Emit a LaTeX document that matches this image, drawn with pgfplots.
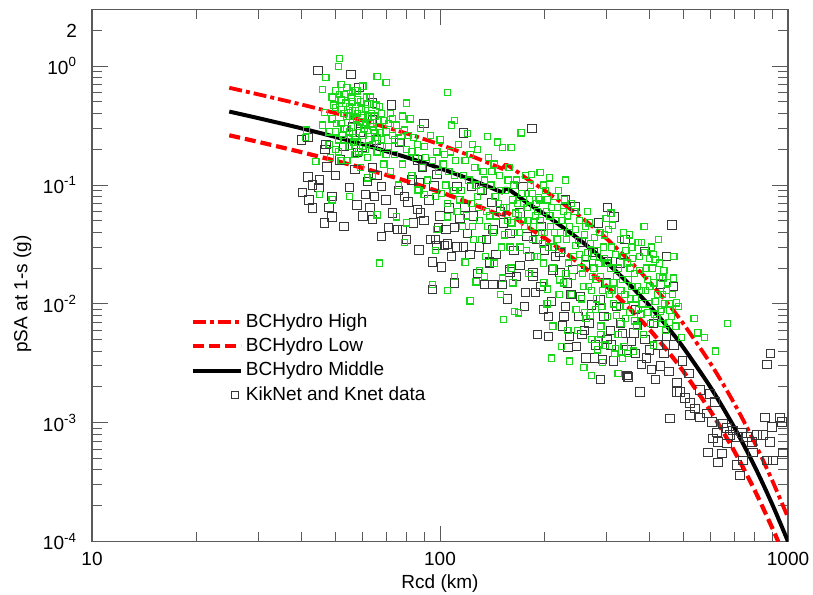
\documentclass[border=0pt]{standalone}
\usepackage{fontspec}
\setmainfont{Liberation Sans}
\usepackage{pgfplots}
\pgfplotsset{compat=1.18}
\definecolor{ptgreen}{RGB}{25,215,25}
\definecolor{ptgray}{RGB}{55,55,55}
\definecolor{axgray}{RGB}{90,90,90}
\begin{document}
\begin{tikzpicture}
\path[use as bounding box] (-46pt,-26.5pt) rectangle (360.5pt,270.75pt);
\begin{axis}[
  scale only axis, width=348pt, height=266pt,
  xmode=log, ymode=log,
  xmin=10, xmax=1000, ymin=1e-4, ymax=3,
  xtick={10,100,1000}, xticklabels={10,100,1000},
  ytick={1e-4,1e-3,1e-2,1e-1,1},
  yticklabels={10\textsuperscript{-4},10\textsuperscript{-3},10\textsuperscript{-2},10\textsuperscript{-1},10\textsuperscript{0}},
  extra y ticks={2}, extra y tick labels={2},
  extra y tick style={major tick length=5pt},
  major tick length=8pt, minor tick length=5pt,
  tick align=inside,
  axis line style={axgray, line width=0.6pt},
  every tick/.style={axgray, line width=0.5pt},
  tick label style={font=\fontsize{9.5}{11}\selectfont},
  yticklabel style={xshift=-4pt},
  xticklabel style={yshift=-2pt},
  xlabel={Rcd (km)}, ylabel={pSA at 1-s (g)},
  label style={font=\fontsize{9.5}{11}\selectfont},
  xlabel style={at={(axis description cs:0.5,-0.079)}, anchor=center},
  ylabel style={at={(axis description cs:-0.1,0.465)}, anchor=center},
  legend style={draw=none, fill=none, at={(axis description cs:0.141,0.435)}, anchor=north west,
    font=\fontsize{9.5}{11}\selectfont, row sep=0.55pt, inner sep=0pt, nodes={inner sep=1.6pt}},
  legend cell align=left,
  legend image code/.code={\draw[#1] (0pt,0pt) -- (24pt,0pt);},
]
% black data squares
\addplot[only marks, mark=square, mark size=2.1pt, mark options={draw=ptgray, line width=0.5pt}, forget plot] table[row sep=\\] {
x y\\
44.6 0.92\\ 55.5 0.85\\ 58.5 0.66\\ 64 0.49\\ 72.5 0.47\\ 90 0.33\\ 41.7 0.25\\ 47 0.22\\ 47.3 0.142\\ 46.7 0.198\\
59.7 0.206\\ 65.7 0.24\\ 76.8 0.227\\ 89 0.14\\ 98 0.122\\ 41.7 0.117\\ 40.3 0.087\\ 43 0.10\\ 44.9 0.095\\ 43 0.064\\
49 0.054\\ 46.6 0.048\\ 49 0.08\\ 57.8 0.068\\ 61 0.083\\ 64.8 0.08\\ 68 0.097\\ 62 0.107\\ 68 0.037\\ 71 0.044\\
75.5 0.042\\ 78 0.042\\ 81 0.072\\ 84 0.048\\ 94 0.0346\\ 98 0.031\\ 105 0.032\\ 110 0.044\\ 106 0.064\\ 112 0.097\\
87 0.105\\ 79 0.08\\ 51.6 0.163\\ 53 0.21\\ 58 0.187\\ 64 0.14\\ 86 0.163\\ 56 0.31\\ 64 0.355\\ 59 0.28\\
40 0.24\\ 64 0.051\\ 87 0.0285\\ 95 0.0225\\ 101 0.0204\\ 95 0.0132\\ 110 0.0150\\ 103 0.031\\ 112 0.030\\ 97 0.035\\
88 0.058\\ 99 0.044\\ 139 0.022\\ 134 0.0145\\ 142 0.0145\\ 151 0.0145\\ 159 0.0185\\ 166 0.017\\ 185 0.017\\ 188 0.0124\\
205 0.0078\\ 227 0.0078\\ 229 0.0095\\ 191 0.0055\\ 205 0.0053\\ 236 0.0053\\ 247 0.0044\\ 233 0.0043\\ 263 0.0035\\ 278 0.0035\\
293 0.0034\\ 315 0.0033\\ 345 0.0025\\ 302 0.0050\\ 345 0.0041\\ 232 0.0150\\ 253 0.0115\\ 272 0.0098\\ 289 0.0108\\ 309 0.0060\\
330 0.0069\\ 211 0.0193\\ 221 0.0183\\ 117 0.275\\ 184 0.30\\ 173 0.097\\ 229 0.075\\ 244 0.066\\ 303 0.065\\ 285 0.048\\
316 0.054\\ 141 0.071\\ 132 0.091\\ 123 0.097\\ 149 0.060\\ 170 0.058\\ 142 0.042\\ 159 0.039\\ 178 0.037\\ 200 0.0285\\
221 0.0270\\ 117 0.030\\ 130 0.030\\ 120 0.039\\ 139 0.0225\\ 159 0.0195\\ 185 0.0183\\ 241 0.0195\\ 262 0.0214\\ 302 0.0225\\
330 0.0220\\ 340 0.0346\\ 275 0.027\\ 464 0.046\\ 448 0.025\\ 468 0.0140\\ 388 0.0275\\ 430 0.0145\\ 361 0.0057\\ 388 0.0050\\
423 0.0045\\ 448 0.0053\\ 365 0.0038\\ 392 0.0035\\ 890 0.0038\\ 870 0.0031\\ 348 0.0024\\
376 0.00181\\ 458 0.00109\\ 480 0.00181\\ 506 0.00161\\ 523 0.00116\\ 540 0.00132\\ 559 0.00111\\ 585 0.00120\\ 605 0.00101\\ 617 0.00149\\
625 0.00083\\ 651 0.00099\\ 668 0.00090\\ 681 0.00079\\ 695 0.00086\\ 713 0.00076\\ 737 0.00082\\ 762 0.00076\\ 788 0.00069\\ 815 0.00079\\
848 0.00079\\ 888 0.00069\\ 859 0.00111\\ 899 0.00092\\ 948 0.00111\\ 962 0.00101\\ 968 0.00056\\ 906 0.00048\\ 871 0.00048\\ 793 0.00056\\
743 0.00048\\ 728 0.00036\\ 630 0.00046\\ 589 0.00056\\ 646 0.00055\\ 713 0.00044\\ 608 0.00074\\ 630 0.00069\\ 668 0.00067\\ 559 0.00188\\
597 0.00174\\ 523 0.00146\\ 489 0.00181\\ 480 0.00219\\ 347 0.00242\\ 400 0.0041\\ 430 0.0030\\ 455 0.0027\\ 416 0.0023\\ 497 0.0033\\
289 0.0023\\ 260 0.0060\\ 198 0.0090\\ 176 0.0125\\ 365 0.0090\\ 410 0.0068\\ 520 0.0026\\ 300 0.0150\\ 255 0.0330\\ 195 0.045\\
42 0.075\\ 45 0.11\\ 48 0.065\\ 50 0.12\\ 53 0.045\\ 55 0.095\\ 57 0.135\\ 60 0.055\\ 63 0.065\\ 66 0.12\\
70 0.075\\ 73 0.058\\ 76 0.09\\ 80 0.035\\ 83 0.11\\ 86 0.062\\ 90 0.05\\ 93 0.075\\ 96 0.098\\ 100 0.055\\
104 0.042\\ 108 0.025\\ 114 0.052\\ 118 0.065\\ 122 0.026\\
125 0.055\\ 128 0.018\\ 136 0.035\\ 145 0.026\\ 152 0.048\\ 156 0.011\\ 163 0.028\\ 170 0.021\\ 175 0.0095\\ 181 0.025\\
190 0.035\\ 195 0.014\\ 209 0.0105\\ 215 0.025\\ 225 0.0065\\ 238 0.012\\ 250 0.0078\\ 256 0.0055\\ 268 0.0068\\ 280 0.0045\\
296 0.0078\\ 310 0.0045\\ 322 0.0095\\ 335 0.0056\\ 355 0.0048\\ 370 0.0066\\ 380 0.0031\\ 405 0.0028\\ 440 0.0038\\ 470 0.0045\\
}; 
% green data squares
\addplot[only marks, mark=square, mark size=1.55pt, mark options={draw=ptgreen, line width=0.6pt}, forget plot] table[row sep=\\] {
x y\\
46 0.64\\ 47 0.80\\ 51.4 1.16\\ 51 0.99\\ 56 0.60\\ 66 0.82\\ 70 0.73\\ 80 0.49\\ 105 0.60\\ 110 0.35\\
41.3 0.29\\ 41 0.25\\ 44 0.157\\ 46.6 0.41\\ 46 0.32\\ 48 0.22\\ 49 0.36\\ 50 0.28\\ 50 0.45\\ 51 0.19\\
52 0.33\\ 52 0.52\\ 53 0.24\\ 53 0.40\\ 54 0.30\\ 54 0.16\\ 55 0.46\\ 55 0.21\\ 56 0.35\\ 56 0.27\\
57 0.18\\ 57 0.42\\ 58 0.31\\ 58 0.23\\ 59 0.50\\ 59 0.14\\ 60 0.37\\ 60 0.26\\ 61 0.20\\ 61 0.44\\
62 0.29\\ 62 0.17\\ 63 0.33\\ 63 0.55\\ 64 0.22\\ 64 0.12\\ 65 0.38\\ 65 0.27\\ 66 0.19\\ 67 0.31\\
67 0.46\\ 68 0.24\\ 69 0.15\\ 69 0.35\\ 70 0.28\\ 71 0.21\\ 72 0.40\\ 72 0.13\\ 73 0.26\\ 74 0.18\\
75 0.32\\ 76 0.10\\ 77 0.23\\ 78 0.15\\ 79 0.29\\ 80 0.20\\ 82 0.36\\ 83 0.12\\ 84 0.25\\ 85 0.17\\
87 0.09\\ 88 0.30\\ 89 0.14\\ 90 0.21\\ 92 0.11\\ 94 0.26\\ 95 0.16\\ 97 0.08\\ 98 0.19\\ 99 0.13\\
49 0.55\\ 50 0.62\\ 52 0.70\\ 53 0.58\\ 54 0.66\\ 55 0.38\\ 57 0.62\\ 58 0.52\\ 60 0.68\\ 62 0.48\\
48 0.28\\ 51 0.24\\ 53 0.30\\ 55 0.28\\ 57 0.25\\ 59 0.34\\ 61 0.32\\ 52 0.43\\ 56 0.50\\ 58 0.40\\
45 0.083\\ 49 0.075\\ 55 0.08\\ 62 0.115\\ 66 0.056\\ 75 0.054\\ 80 0.048\\ 79 0.033\\ 86 0.091\\ 90 0.083\\
98 0.042\\ 105 0.054\\ 67 0.022\\ 95 0.0145\\ 105 0.013\\ 110 0.017\\ 97 0.028\\
100 0.24\\ 102 0.15\\ 104 0.10\\ 105 0.07\\ 107 0.19\\ 108 0.32\\ 110 0.12\\ 112 0.06\\ 113 0.22\\ 115 0.09\\
116 0.045\\ 118 0.16\\ 120 0.27\\ 121 0.11\\ 123 0.07\\ 125 0.035\\ 126 0.14\\ 128 0.20\\ 130 0.05\\ 131 0.09\\
133 0.13\\ 135 0.025\\ 136 0.06\\ 138 0.17\\ 140 0.10\\ 142 0.04\\ 144 0.08\\ 146 0.23\\ 148 0.12\\ 150 0.03\\
152 0.065\\ 154 0.09\\ 156 0.05\\ 158 0.14\\ 160 0.02\\ 162 0.075\\ 164 0.04\\ 166 0.11\\ 168 0.055\\ 170 0.03\\
172 0.085\\ 175 0.045\\ 178 0.065\\ 180 0.018\\ 182 0.10\\ 185 0.035\\ 188 0.055\\ 190 0.025\\ 193 0.075\\ 196 0.04\\
199 0.015\\ 202 0.06\\ 205 0.03\\ 208 0.045\\ 211 0.02\\ 214 0.08\\ 217 0.035\\ 220 0.012\\
171 0.275\\ 151 0.206\\ 160 0.206\\ 124 0.22\\ 137 0.255\\ 194 0.127\\ 206 0.115\\ 229 0.11\\ 183 0.122\\ 192 0.078\\
313 0.046\\ 337 0.04\\ 310 0.058\\
371 0.033\\ 415 0.0235\\ 437 0.0165\\ 468 0.0165\\ 479 0.0102\\ 537 0.0075\\ 670 0.0068\\ 551 0.0057\\ 576 0.0052\\ 620 0.0040\\
494 0.0052\\ 430 0.0086\\ 455 0.0070\\
225 0.028\\ 230 0.018\\ 235 0.040\\ 238 0.012\\ 242 0.025\\ 246 0.009\\ 250 0.034\\ 254 0.020\\ 258 0.014\\ 262 0.045\\
266 0.027\\ 270 0.008\\ 274 0.017\\ 278 0.036\\ 282 0.011\\ 286 0.022\\ 290 0.0065\\ 295 0.030\\ 300 0.015\\ 305 0.042\\
310 0.020\\ 315 0.010\\ 320 0.026\\ 325 0.0055\\ 330 0.035\\ 335 0.016\\ 340 0.012\\ 345 0.022\\ 350 0.0085\\ 356 0.030\\
362 0.018\\ 368 0.0065\\ 374 0.025\\ 380 0.013\\ 386 0.045\\ 392 0.020\\ 398 0.010\\ 405 0.030\\ 412 0.015\\ 420 0.0075\\
428 0.022\\ 436 0.012\\ 445 0.006\\
232 0.055\\ 248 0.006\\ 265 0.060\\ 285 0.005\\ 298 0.0045\\ 318 0.0038\\ 338 0.0044\\ 360 0.0040\\ 300 0.052\\ 328 0.0095\\
342 0.028\\ 356 0.014\\ 372 0.009\\ 384 0.0055\\ 395 0.016\\ 410 0.0045\\ 425 0.035\\ 440 0.019\\ 455 0.010\\ 470 0.025\\
152 0.0074\\ 122 0.0106\\ 209 0.0035\\ 272 0.0025\\ 325 0.0026\\ 130 0.019\\ 164 0.0086\\ 168 0.0084\\ 236 0.0033\\ 259 0.0029\\
293 0.0032\\ 334 0.0035\\ 223 0.0044\\ 211 0.0065\\ 203 0.010\\ 233 0.0060\\ 272 0.0050\\ 284 0.0041\\ 320 0.0042\\ 346 0.0038\\
127 0.0153\\ 134 0.017\\ 151 0.0165\\ 162 0.015\\ 149 0.012\\ 143 0.022\\ 118 0.0225\\ 198 0.022\\ 204 0.0133\\ 221 0.0159\\
124 0.045\\ 128 0.08\\ 132 0.035\\ 139 0.055\\ 141 0.13\\ 147 0.07\\ 153 0.038\\ 157 0.11\\ 161 0.048\\ 167 0.07\\
173 0.05\\ 177 0.028\\ 181 0.075\\ 186 0.045\\ 191 0.06\\ 197 0.032\\ 201 0.09\\ 207 0.055\\ 213 0.04\\ 218 0.065\\
224 0.05\\ 228 0.075\\ 236 0.045\\ 244 0.06\\ 252 0.05\\ 260 0.038\\ 268 0.048\\ 276 0.025\\ 288 0.04\\ 296 0.024\\
255 0.011\\ 263 0.0075\\ 272 0.013\\ 281 0.016\\ 292 0.0095\\ 303 0.0078\\ 312 0.013\\ 322 0.017\\ 331 0.0068\\ 344 0.0095\\
352 0.020\\ 365 0.011\\ 378 0.0082\\ 390 0.013\\ 402 0.0068\\ 415 0.0105\\ 432 0.009\\ 448 0.013\\ 462 0.0078\\ 400 0.024\\
48.5 0.17\\ 49.5 0.47\\ 50.5 0.33\\ 51.5 0.58\\ 52.5 0.26\\ 53.5 0.49\\ 54.5 0.21\\ 55.5 0.55\\ 56.5 0.23\\ 57.5 0.36\\
58.5 0.19\\ 59.5 0.43\\ 60.5 0.30\\ 61.5 0.55\\ 62.5 0.24\\ 63.5 0.40\\ 64.5 0.29\\ 65.5 0.47\\ 66.5 0.35\\ 67.5 0.21\\
50 0.20\\ 52 0.16\\ 54 0.38\\ 56 0.42\\ 58 0.62\\ 60 0.21\\ 62 0.38\\ 64 0.31\\ 66 0.25\\ 68 0.40\\
70 0.18\\ 71 0.33\\ 73 0.36\\ 74 0.24\\ 76 0.28\\ 78 0.38\\ 81 0.26\\ 83 0.19\\ 86 0.22\\ 91 0.17\\
101 0.085\\ 103 0.18\\ 106 0.13\\ 109 0.09\\ 111 0.16\\ 114 0.075\\ 117 0.12\\ 119 0.055\\ 122 0.18\\ 127 0.10\\
129 0.065\\ 134 0.11\\ 137 0.045\\ 143 0.15\\ 145 0.055\\ 149 0.09\\ 155 0.065\\ 159 0.03\\ 163 0.10\\ 165 0.058\\
169 0.04\\ 174 0.07\\ 176 0.12\\ 179 0.05\\ 184 0.085\\ 187 0.025\\ 189 0.07\\ 194 0.05\\ 198 0.10\\ 200 0.04\\
203 0.075\\ 209 0.065\\ 212 0.03\\ 216 0.05\\ 219 0.09\\ 222 0.04\\ 226 0.06\\ 231 0.035\\ 239 0.07\\ 245 0.042\\
226 0.015\\ 234 0.022\\ 240 0.017\\ 245 0.031\\ 252 0.026\\ 257 0.018\\ 261 0.024\\ 267 0.014\\ 271 0.032\\ 277 0.020\\
280 0.009\\ 284 0.028\\ 289 0.017\\ 293 0.013\\ 297 0.038\\ 302 0.022\\ 307 0.012\\ 311 0.030\\ 316 0.015\\ 321 0.008\\
326 0.020\\ 331 0.013\\ 336 0.025\\ 341 0.0075\\ 347 0.016\\ 353 0.011\\ 358 0.024\\ 363 0.0072\\ 369 0.014\\ 375 0.019\\
381 0.010\\ 388 0.027\\ 394 0.0085\\ 401 0.014\\ 407 0.020\\ 414 0.0082\\ 421 0.012\\ 427 0.017\\ 434 0.0068\\ 442 0.010\\
450 0.015\\ 458 0.0088\\ 466 0.012\\ 476 0.0065\\ 485 0.0095\\ 350 0.038\\ 380 0.033\\ 410 0.026\\ 260 0.0085\\ 290 0.0055\\
};
% BCHydro High
\addplot[red, line width=1.9pt, dash pattern=on 6.5pt off 2pt on 2pt off 2pt, smooth] table[row sep=\\] {
x y\\ 24.8 0.658\\ 30 0.580\\ 40 0.476\\ 50 0.403\\ 60 0.349\\ 80 0.272\\ 100 0.219\\ 125 0.172\\ 152 0.136\\
};
\addlegendentry{BCHydro High}
% BCHydro Low
\addplot[red, line width=2.1pt, dash pattern=on 5.5pt off 2.5pt, smooth] table[row sep=\\] {
x y\\ 24.8 0.262\\ 30 0.231\\ 40 0.189\\ 50 0.160\\ 60 0.139\\ 80 0.108\\ 100 0.0873\\ 125 0.0686\\ 152 0.0542\\
};
\addlegendentry{BCHydro Low}
% BCHydro Middle
\addplot[black, line width=2pt, smooth] table[row sep=\\] {
x y\\ 24.8 0.415\\ 30 0.366\\ 40 0.300\\ 50 0.254\\ 60 0.220\\ 80 0.1714\\ 100 0.1383\\ 125 0.1087\\ 152 0.0859\\
};
\addlegendentry{BCHydro Middle}
% second pieces, after the step near 155 km
\addplot[red, line width=1.9pt, dash pattern=on 6.5pt off 2pt on 2pt off 2pt, smooth, forget plot] table[row sep=\\] {
x y\\ 152 0.136\\ 156 0.147\\ 180 0.110\\ 200 0.0897\\ 250 0.0558\\ 300 0.0357\\ 350 0.0231\\ 400 0.0153\\ 450 0.0102\\ 500 0.00682\\ 600 0.00312\\ 700 0.00146\\ 800 0.00069\\ 900 0.000328\\ 1000 0.000159\\
};
\addplot[red, line width=2.1pt, dash pattern=on 5.5pt off 2.5pt, smooth, forget plot] table[row sep=\\] {
x y\\ 152 0.0542\\ 156 0.0587\\ 180 0.0437\\ 200 0.0357\\ 250 0.0222\\ 300 0.0142\\ 350 0.00921\\ 400 0.00608\\ 450 0.00404\\ 500 0.00271\\ 600 0.00124\\ 700 0.00058\\ 800 0.000274\\ 900 0.000131\\ 937 0.0001\\
};
\addplot[black, line width=2pt, smooth, forget plot] table[row sep=\\] {
x y\\ 152 0.0859\\ 156 0.093\\ 180 0.0693\\ 200 0.0566\\ 250 0.0352\\ 300 0.0225\\ 350 0.0146\\ 400 0.00964\\ 450 0.00641\\ 500 0.00430\\ 600 0.00197\\ 700 0.00092\\ 800 0.000435\\ 900 0.000207\\ 1000 0.0001\\
};
\addlegendimage{legend image code/.code={\draw[mark=square, mark size=1.8pt, mark options={draw=ptgray, line width=0.5pt}] plot coordinates {(21pt,0pt)};}}
\addlegendentry{KikNet and Knet data}
\end{axis}
\end{tikzpicture}
\end{document}
